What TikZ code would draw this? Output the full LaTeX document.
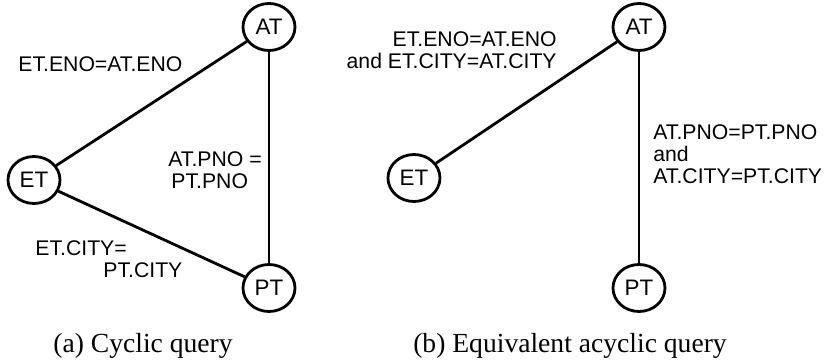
\documentclass[tikz,border=0pt]{standalone}
\usepackage{fontspec}
\setmainfont{Liberation Serif}
\setsansfont{Liberation Sans}
\usetikzlibrary{shapes.geometric}
\tikzset{
  rel/.style={draw,ellipse,line width=1.4pt,minimum width=26pt,minimum height=23.5pt,
              inner sep=0pt,font=\sffamily\fontsize{11.2}{12}\selectfont},
  edge/.style={line width=1.4pt},
  cond/.style={font=\sffamily\fontsize{10.6}{11.2}\selectfont,inner sep=0pt},
  capt/.style={font=\fontsize{13.8}{16}\selectfont,inner sep=0pt,anchor=base}
}
\begin{document}
\begin{tikzpicture}[x=0.5pt,y=-0.5pt]
    \useasboundingbox (0,0) rectangle (825,363);
    % (a) cyclic query
    \node[rel] (at1) at (269,27) {AT};
    \node[rel] (et1) at (34,180) {ET};
    \node[rel] (pt1) at (269,288) {PT};
    \foreach \a/\b in {et1/at1,at1/pt1,et1/pt1} \draw[edge] (\a) -- (\b);
    \node[cond,anchor=base west] (eno1) at (18,72) {ET.ENO=AT.ENO};
    \node[cond,anchor=base west,align=left] (pno1) at (168,189) {AT.PNO =\\\hspace*{1.5pt}PT.PNO};
    \node[cond,anchor=base west,align=left] (city1) at (35,278) {ET.CITY=\\\hspace*{34pt}PT.CITY};
    \node[capt] (capa) at (143,353) {(a) Cyclic query};
    % (b) equivalent acyclic query
    \node[rel] (at2) at (639,27) {AT};
    \node[rel] (et2) at (414,178) {ET};
    \node[rel] (pt2) at (639,288) {PT};
    \foreach \a/\b in {et2/at2,at2/pt2} \draw[edge] (\a) -- (\b);
    \node[cond,anchor=base east,align=right] (eno2) at (557,69) {ET.ENO=AT.ENO\\and ET.CITY=AT.CITY};
    \node[cond,anchor=base west,align=left] (pno2) at (653,184) {AT.PNO=PT.PNO\\and\\AT.CITY=PT.CITY};
    \node[capt] (capb) at (570,353) {(b) Equivalent acyclic query};
\end{tikzpicture}
\end{document}
